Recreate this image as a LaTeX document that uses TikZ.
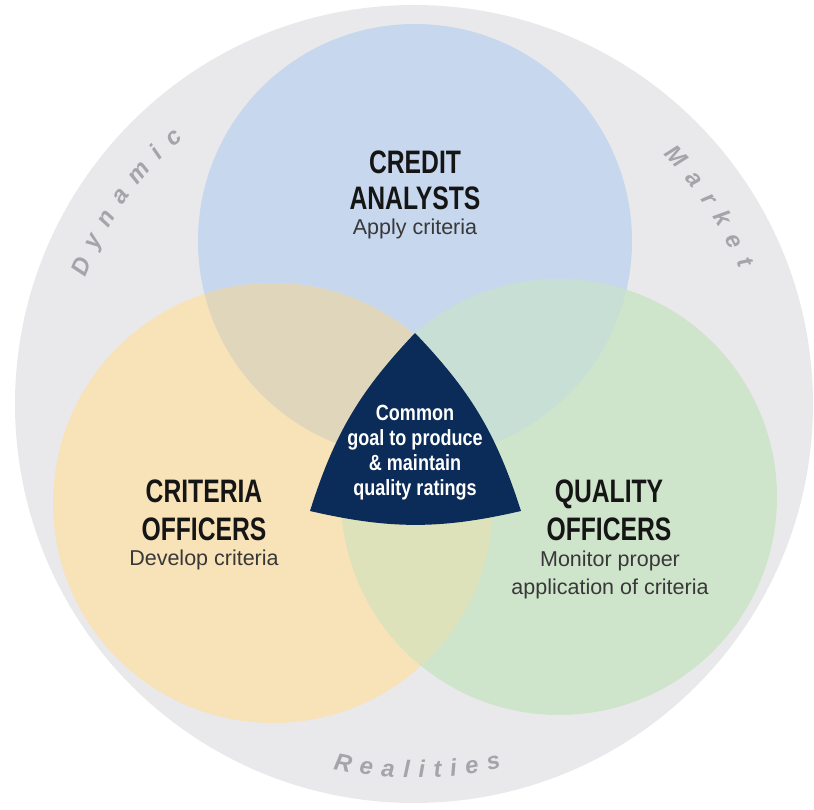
\documentclass[tikz,border=0pt]{standalone}
\usepackage{fontspec}
\setmainfont{Liberation Sans}
\newfontfamily\condfont[FakeStretch=0.76]{Liberation Sans}
\newfontfamily\goalfont[FakeStretch=0.82]{Liberation Sans}
\usetikzlibrary{decorations.text,calc}
\definecolor{bggray}{HTML}{E9E9EB}
\definecolor{cblue}{HTML}{C6D7EE}
\definecolor{corange}{HTML}{F8E2B8}
\definecolor{cgreen}{HTML}{CFE5CB}
\definecolor{cbo}{HTML}{E0D6BC}
\definecolor{cbg}{HTML}{C7DFD5}
\definecolor{cog}{HTML}{DEE2BA}
\definecolor{navy}{HTML}{0B2B58}
\definecolor{titlecol}{HTML}{151515}
\definecolor{subcol}{HTML}{383838}
\definecolor{arcgray}{HTML}{A4A4AA}
\newcommand\arcstyle{\bfseries\itshape\fontsize{24}{27}\selectfont\color{arcgray}}
\tikzset{
  title/.style={font=\condfont\bfseries\fontsize{32.5}{36}\selectfont, text=titlecol, inner sep=0pt, anchor=base},
  sub/.style={font=\fontsize{21.5}{24}\selectfont, text=subcol, inner sep=0pt, anchor=base},
  goal/.style={font=\goalfont\bfseries\fontsize{22}{25}\selectfont, text=white, inner sep=0pt, anchor=base}
}
\begin{document}
\begin{tikzpicture}[x=1pt,y=1pt]
\useasboundingbox (0,0) rectangle (814,809);
\coordinate (O) at (414,405);
\coordinate (cB) at (415,568);
\coordinate (cO) at (273,306);
\coordinate (cG) at (559,312);
% outer ring
\fill[bggray] (O) circle (399);
% circles
\fill[cblue] (cB) circle (217);
\fill[corange] (cO) circle (220);
\fill[cgreen] (cG) circle (218);
\begin{scope}
  \clip (cO) circle (220);
  \fill[cbo] (cB) circle (217);
\end{scope}
\begin{scope}
  \clip (cG) circle (218);
  \fill[cbg] (cB) circle (217);
\end{scope}
\begin{scope}
  \clip (cG) circle (218);
  \fill[cog] (cO) circle (220);
\end{scope}
% central triangle
\coordinate (tT) at (415,476);
\coordinate (tL) at (310,298);
\coordinate (tR) at (521,298);
\fill[navy] (tT) to[bend right=13] (tL) to[bend right=13] (tR) to[bend right=13] (tT) -- cycle;
% arc texts
\path[decorate, decoration={text along path, text={|\arcstyle|Dynamic}, text align=fit to path}]
  ($(O)+(159:352)$) arc[start angle=159, end angle=131, radius=352];
\path[decorate, decoration={text along path, text={|\arcstyle|Market}, text align=fit to path}]
  ($(O)+(45:352)$) arc[start angle=45, end angle=22.5, radius=352];
\path[decorate, decoration={text along path, text={|\arcstyle|Realities}, text align=fit to path}]
  ($(O)+(257.5:374)$) arc[start angle=257.5, end angle=283.5, radius=374];
% texts
\node[title] (ca1) at (415,635) {CREDIT};
\node[title] (ca2) at (415,599) {ANALYSTS};
\node[sub] (ca3) at (415,574) {Apply criteria};
\node[title] (co1) at (204,306) {CRITERIA};
\node[title] (co2) at (204,268) {OFFICERS};
\node[sub] (co3) at (204,243) {Develop criteria};
\node[title] (qo1) at (609,306) {QUALITY};
\node[title] (qo2) at (609,268) {OFFICERS};
\node[sub] (qo3) at (610,242) {Monitor proper};
\node[sub] (qo4) at (610,214) {application of criteria};
\node[goal] (g1) at (415,388) {Common};
\node[goal] (g2) at (415,363) {goal to produce};
\node[goal] (g3) at (415,338) {\& maintain};
\node[goal] (g4) at (415,313) {quality ratings};
\end{tikzpicture}
\end{document}
